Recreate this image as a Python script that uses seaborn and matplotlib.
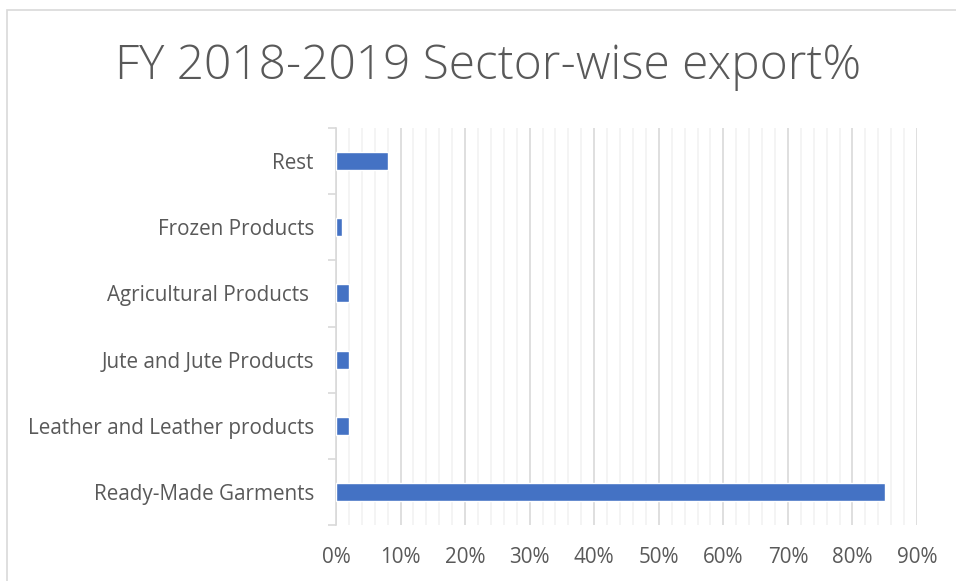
import matplotlib
matplotlib.use("Agg")
import matplotlib.pyplot as plt
from matplotlib.patches import Rectangle
from matplotlib.ticker import MultipleLocator, FuncFormatter, FixedLocator, NullFormatter
import seaborn as sns
import pandas as pd

# Sector share of exports, FY 2018-2019 (percent)
sectors = ["Rest", "Frozen Products", "Agricultural Products ", "Jute and Jute Products",
           "Leather and Leather products", "Ready-Made Garments"]
export_pct = [8, 1, 2, 2, 2, 85]
x_ticks = [0, 10, 20, 30, 40, 50, 60, 70, 80, 90]

df = pd.DataFrame({"sector": sectors, "pct": export_pct})

sns.set_theme(style="white")
plt.rcParams["font.family"] = ["Open Sans", "DejaVu Sans"]

W, H = 956, 581
fig = plt.figure(figsize=(W / 100, H / 100), dpi=100)
ax = fig.add_axes([336 / W, 1 - 525 / H, (917 - 336) / W, (525 - 128) / H])

sns.barplot(data=df, x="pct", y="sector", order=sectors, orient="h",
            color="#4472C4", width=0.27, saturation=1, ax=ax, zorder=3)

ax.set_xlim(0, 90)
ax.set_ylim(5.5, -0.5)
ax.xaxis.set_major_locator(FixedLocator(x_ticks))
ax.xaxis.set_minor_locator(MultipleLocator(2))
ax.xaxis.set_major_formatter(FuncFormatter(lambda v, p: f"{int(v)}%"))
ax.grid(False)
ax.grid(axis="x", which="minor", color="#f2f2f2", linewidth=1.2, zorder=0)
ax.grid(axis="x", which="major", color="#d9d9d9", linewidth=1.2, zorder=1)
ax.set_axisbelow(True)

for s in ["top", "right", "bottom"]:
    ax.spines[s].set_visible(False)
ax.spines["left"].set_color("#d9d9d9")
ax.spines["left"].set_linewidth(1.2)

# category-boundary tick marks on the vertical axis
ax.yaxis.set_minor_locator(FixedLocator([i - 0.5 for i in range(len(sectors) + 1)]))
ax.yaxis.set_minor_formatter(NullFormatter())
ax.tick_params(axis="y", which="minor", length=6, width=1.2, color="#d9d9d9", left=True)
ax.tick_params(axis="y", which="major", length=0, pad=16, labelsize=14.9, labelcolor="#595959")
ax.tick_params(axis="x", which="both", length=0, pad=16, labelsize=14.9, labelcolor="#595959")
ax.set_xlabel("")
ax.set_ylabel("")

fig.text(488.5 / W, 1 - 67 / H,
         "FY 2018-2019 Sector-wise export%", ha="center", va="center",
         fontsize=34.5, color="#595959", fontweight="light")

# chart area frame
fig.patches.append(Rectangle((7 / W, -0.05), 1.1, 1 - 10 / H + 0.05, transform=fig.transFigure,
                             fill=False, edgecolor="#d9d9d9", linewidth=1.2))

fig.savefig("out.png", dpi=100, facecolor="white")
